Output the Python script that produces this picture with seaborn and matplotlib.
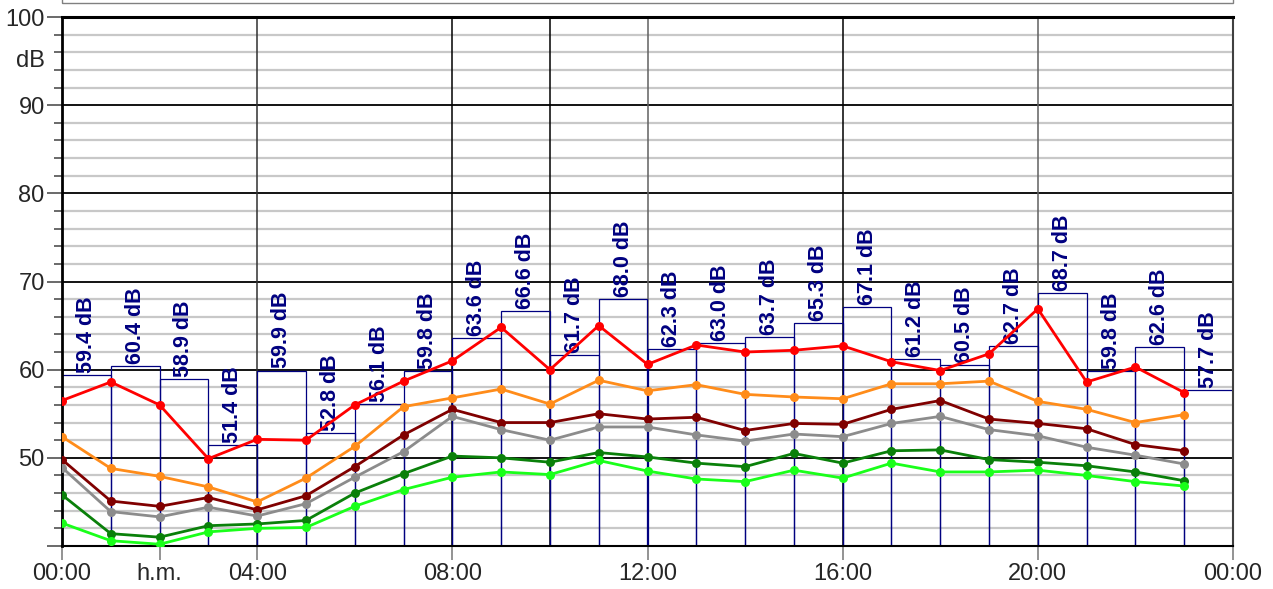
import numpy as np
import pandas as pd
import matplotlib
matplotlib.use("Agg")
import matplotlib.pyplot as plt
import matplotlib.transforms as mtransforms
from matplotlib.patches import Rectangle
import seaborn as sns

sns.set_style("white")
plt.rcParams['font.family'] = ['Liberation Sans', 'DejaVu Sans']

hours = list(range(24))

# hourly Leq (step bars)
leq = [59.4, 60.4, 58.9, 51.4, 59.9, 52.8, 56.1, 59.8, 63.6, 66.6, 61.7, 68.0,
       62.3, 63.0, 63.7, 65.3, 67.1, 61.2, 60.5, 62.7, 68.7, 59.8, 62.6, 57.7]

# level curves
red = [56.5, 58.6, 56.0, 49.9, 52.1, 52.0, 56.0, 58.7, 61.0, 64.8, 60.0, 65.0,
       60.6, 62.8, 62.0, 62.2, 62.7, 60.9, 59.9, 61.8, 66.9, 58.6, 60.3, 57.4]
orange = [52.4, 48.8, 47.9, 46.7, 45.0, 47.7, 51.3, 55.8, 56.8, 57.8, 56.1, 58.8,
          57.6, 58.3, 57.2, 56.9, 56.7, 58.4, 58.4, 58.7, 56.4, 55.5, 54.0, 54.9]
darkred = [49.8, 45.1, 44.5, 45.5, 44.1, 45.7, 49.0, 52.6, 55.5, 54.0, 54.0, 55.0,
           54.4, 54.6, 53.1, 53.9, 53.8, 55.5, 56.5, 54.4, 53.9, 53.3, 51.5, 50.8]
gray = [48.9, 43.9, 43.3, 44.4, 43.4, 44.8, 47.8, 50.7, 54.7, 53.2, 52.0, 53.5,
        53.5, 52.6, 51.9, 52.7, 52.4, 53.9, 54.7, 53.2, 52.5, 51.2, 50.3, 49.3]
darkgreen = [45.8, 41.4, 41.0, 42.3, 42.5, 42.9, 46.0, 48.2, 50.2, 50.0, 49.5, 50.6,
             50.1, 49.4, 49.0, 50.5, 49.4, 50.8, 50.9, 49.8, 49.5, 49.1, 48.4, 47.4]
lightgreen = [42.6, 40.6, 40.2, 41.6, 42.0, 42.1, 44.5, 46.4, 47.8, 48.4, 48.1, 49.7,
              48.5, 47.6, 47.3, 48.6, 47.7, 49.4, 48.4, 48.4, 48.6, 48.0, 47.3, 46.8]

series = {
    "red": red, "orange": orange, "darkred": darkred,
    "gray": gray, "darkgreen": darkgreen, "lightgreen": lightgreen,
}
palette = {
    "red": "#ff0000", "orange": "#ff8c1a", "darkred": "#800000",
    "gray": "#8c8c8c", "darkgreen": "#0a800a", "lightgreen": "#1aff1a",
}

xtick_pos = [0, 2, 4, 8, 12, 16, 20, 24]
xtick_labels = ["00:00", "h.m.", "04:00", "08:00", "12:00", "16:00", "20:00", "00:00"]
ytick_pos = [40, 50, 60, 70, 80, 90, 100]
ytick_labels = ["", "50", "60", "70", "80", "90", "100"]
vlines = {4: "#303030", 8: "#000000", 10: "#000000", 12: "#606060",
          16: "#000000", 20: "#606060"}

df = pd.DataFrame(
    [(h, name, v) for name, vals in series.items() for h, v in zip(hours, vals)],
    columns=["hour", "series", "level"],
)

fig = plt.figure(figsize=(12.73, 5.89), dpi=100)
ax = fig.add_axes([62 / 1273, 43 / 589, 1171 / 1273, 529 / 589])

ax.set_xlim(0, 24)
ax.set_ylim(40, 100)

# grid
ax.set_yticks(ytick_pos)
ax.set_yticklabels(ytick_labels)
ax.set_yticks(np.arange(40, 101, 2), minor=True)
ax.yaxis.grid(True, which="minor", color="#c8c8c8", lw=1.6, zorder=0)
ax.yaxis.grid(True, which="major", color="#000000", lw=1.3, zorder=0.5)
ax.set_axisbelow(True)
for h, c in vlines.items():
    ax.axvline(h, color=c, lw=1.1, zorder=1)

# hourly bars
ax.bar(hours, [v - 40 for v in leq], bottom=40, width=1, align="edge",
       fill=False, edgecolor="#000080", lw=0.9, zorder=2)
for h, v in zip(hours, leq):
    ax.annotate(f"{v:.1f} dB", xy=(h + 0.5, v), xytext=(0, 1.5),
                textcoords="offset points", rotation=90, ha="center", va="bottom",
                fontsize=15.5, fontweight="bold", color="#000080",
                family=["Liberation Sans Narrow", "Liberation Sans"], zorder=2.5)

sns.lineplot(data=df, x="hour", y="level", hue="series", palette=palette,
             marker="o", markersize=6.5, markeredgewidth=0, lw=2,
             legend=False, ax=ax, zorder=3)

ax.set_xticks(xtick_pos)
ax.set_xticklabels(xtick_labels)
ax.xaxis.get_major_ticks()[1].tick1line.set_visible(False)
ax.set_xlabel("")
ax.set_ylabel("")

ax.tick_params(axis="x", which="major", length=10, width=1.2, color="#808080",
               labelsize=17, pad=2, bottom=True)
ax.tick_params(axis="y", which="major", length=11, width=1.2, color="#505050",
               labelsize=17, pad=1.5, left=True)
ax.tick_params(axis="y", which="minor", length=5.5, width=1.2, color="#505050",
               left=True)

ax.text(-0.0145, 95, "dB", fontsize=17, ha="right", va="center",
        transform=mtransforms.blended_transform_factory(ax.transAxes, ax.transData))

for side, lw, c in [("left", 2, "#000000"), ("bottom", 1.5, "#000000"),
                    ("top", 2.2, "#000000"), ("right", 1.5, "#404040")]:
    ax.spines[side].set_visible(True)
    ax.spines[side].set_linewidth(lw)
    ax.spines[side].set_color(c)

# legend box cut off at the top
fig.add_artist(Rectangle((62 / 1273, 586 / 589), 1171 / 1273, 0.05,
                         transform=fig.transFigure, fill=False,
                         edgecolor="#808080", lw=1))

fig.savefig("out.png", dpi=100)
